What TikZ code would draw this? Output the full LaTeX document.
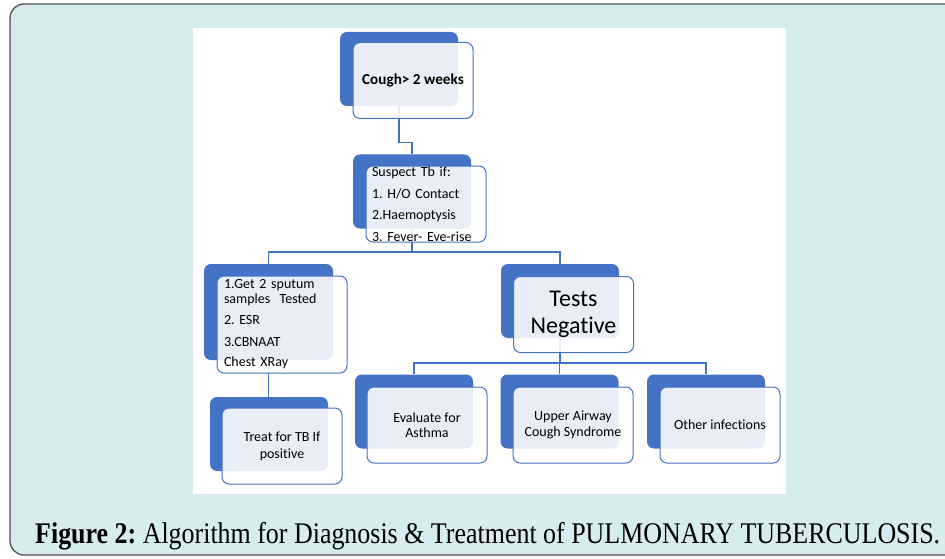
\documentclass[tikz,border=0pt]{standalone}
\usepackage{graphicx}
\usepackage{fontspec}
\setmainfont{Carlito}[Ligatures=NoCommon]
\newfontfamily\capfont{Liberation Serif}
\frenchspacing

\definecolor{boxblue}{HTML}{4472C4}
\definecolor{framebg}{HTML}{D7ECF1}
\definecolor{framegray}{HTML}{505050}

\pgfdeclarelayer{back}
\pgfdeclarelayer{lines}
\pgfsetlayers{back,lines,main}

\tikzset{
  backbox/.style={fill=boxblue, rounded corners=7pt, minimum width=118pt, minimum height=74pt, inner sep=0pt},
  frontbox/.style={draw=boxblue, line width=1pt, fill=white, fill opacity=0.88, text opacity=1,
    rounded corners=7pt, minimum width=120pt, minimum height=76pt, align=center,
    font=\fontsize{14}{15.5}\selectfont},
  link/.style={draw=boxblue, line width=1.2pt}
}

\begin{document}
\begin{tikzpicture}[x=1pt, y=-1pt]
\useasboundingbox (0,0) rectangle (945,559);

% Frame and panel
\begin{pgfonlayer}{back}
\draw[framegray, line width=1.3pt, fill=framebg, rounded corners=14pt] (10,4) rectangle (975,555);
\fill[white] (193,28) rectangle (786,494);
\end{pgfonlayer}

% Caption
\node[anchor=base west, inner sep=0pt] (caption) at (35,543)
  {\resizebox{905pt}{\height}{\capfont\fontsize{30}{34}\selectfont\textbf{Figure 2:} Algorithm for Diagnosis \& Treatment of PULMONARY TUBERCULOSIS.}};

% Cough
\node[backbox] (coughB) at (399,69) {};
\node[frontbox, font=\bfseries\fontsize{15.2}{17}\selectfont] (cough) at (413,80.5) {Cough> 2 weeks};

% Suspect
\node[backbox] (suspectB) at (412,191.5) {};
\node[frontbox, align=left, text width=108pt, inner xsep=6pt, inner ysep=0pt,
  font=\fontsize{14}{21.5}\selectfont] (suspect) at (426,204)
  {Suspect Tb if:\\1. H/O Contact\\2.Haemoptysis\\3. Fever- Eve-rise};

% Sputum tests
\node[backbox, minimum width=129pt, minimum height=96pt] (sputumB) at (268.5,312) {};
\node[frontbox, minimum width=130pt, minimum height=97pt, align=left, text width=116pt,
  inner xsep=7pt, inner ysep=0pt, font=\fontsize{14}{14.5}\selectfont] (sputum) at (282,324.5)
  {1.Get 2 sputum\\samples\ \ Tested\\[7pt]2. ESR\\[7pt]3.CBNAAT\\[6pt]Chest XRay};

% Tests negative
\node[backbox] (negB) at (560,301) {};
\node[frontbox, font=\fontsize{24}{26.5}\selectfont] (neg) at (573.5,314.5) {Tests\\Negative};

% Treat
\node[backbox] (treatB) at (269,434) {};
\node[frontbox, font=\fontsize{14}{17}\selectfont] (treat) at (282,446) {Treat for TB If\\positive};

% Other causes
\node[backbox] (asthmaB) at (414,411.5) {};
\node[frontbox] (asthma) at (427,425) {Evaluate for\\Asthma};
\node[backbox] (uacsB) at (559.5,411.5) {};
\node[frontbox] (uacs) at (573,425) {Upper Airway\\Cough Syndrome};
\node[backbox] (otherB) at (706,411.5) {};
\node[frontbox] (other) at (720,425) {Other infections};

% Connectors
\coordinate (bus1) at (412,252);
\coordinate (bus2) at (560,363);
\begin{pgfonlayer}{lines}
\draw[link] (coughB.south) -- ++(0,36) -| (suspectB.north);
\draw[link] (suspectB.south) -- (bus1);
\draw[link] (bus1) -| (sputumB.north);
\draw[link] (bus1) -| (negB.north);
\draw[link] (sputumB.south) -- (sputumB.south |- treatB.north);
\draw[link] (negB.south) -- (bus2);
\draw[link] (bus2) -| (asthmaB.north);
\draw[link] (bus2) -| (uacsB.north);
\draw[link] (bus2) -| (otherB.north);
\end{pgfonlayer}
\end{tikzpicture}
\end{document}
